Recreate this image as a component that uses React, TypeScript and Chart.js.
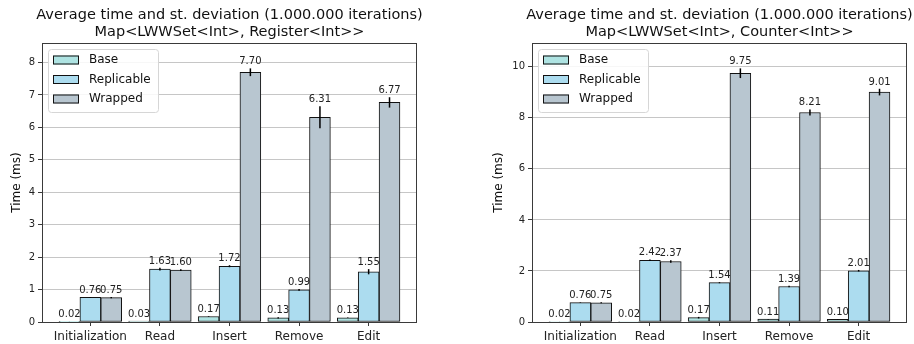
import React, { useEffect, useRef } from "react";
import { Chart, registerables } from "chart.js";

Chart.register(...registerables);

// Benchmark categories
const categories = ["Initialization", "Read", "Insert", "Remove", "Edit"];
const seriesNames = ["Base", "Replicable", "Wrapped"];
const seriesColors = ["#aee3e2", "#acdcef", "#b8c6d0"];

// Map<LWWSet<Int>, Register<Int>> — mean time (ms) and standard deviation
const registerBase = [0.02, 0.03, 0.17, 0.13, 0.13];
const registerBaseErr = [0.002, 0.003, 0.01, 0.02, 0.01];
const registerReplicable = [0.76, 1.63, 1.72, 0.99, 1.55];
const registerReplicableErr = [0.01, 0.04, 0.03, 0.03, 0.08];
const registerWrapped = [0.75, 1.6, 7.7, 6.31, 6.77];
const registerWrappedErr = [0.02, 0.03, 0.12, 0.34, 0.16];

// Map<LWWSet<Int>, Counter<Int>> — mean time (ms) and standard deviation
const counterBase = [0.02, 0.02, 0.17, 0.11, 0.1];
const counterBaseErr = [0.002, 0.002, 0.03, 0.01, 0.01];
const counterReplicable = [0.76, 2.42, 1.54, 1.39, 2.01];
const counterReplicableErr = [0.01, 0.03, 0.02, 0.03, 0.03];
const counterWrapped = [0.75, 2.37, 9.75, 8.21, 9.01];
const counterWrappedErr = [0.02, 0.05, 0.19, 0.12, 0.13];

const TITLE_LINE = "Average time and st. deviation (1.000.000 iterations)";
const FONT = "'DejaVu Sans', sans-serif";
const BAR_WIDTH = 0.3;
const INK = "#222";

type PanelSpec = {
  subtitle: string;
  values: number[][];
  errors: number[][];
  yStep: number;
  padLeft: number;
  yAxisWidth: number;
  padRight: number;
};

const panels: PanelSpec[] = [
  {
    subtitle: "Map<LWWSet<Int>, Register<Int>>",
    values: [registerBase, registerReplicable, registerWrapped],
    errors: [registerBaseErr, registerReplicableErr, registerWrappedErr],
    yStep: 1,
    padLeft: 10,
    yAxisWidth: 32,
    padRight: 40,
  },
  {
    subtitle: "Map<LWWSet<Int>, Counter<Int>>",
    values: [counterBase, counterReplicable, counterWrapped],
    errors: [counterBaseErr, counterReplicableErr, counterWrappedErr],
    yStep: 2,
    padLeft: 35,
    yAxisWidth: 40,
    padRight: 7,
  },
];

// Error bars, value labels, frame, titles and in-axes legend
const decorations = {
  id: "decorations",
  afterDatasetsDraw(chart: any, _args: any, opts: any) {
    const { ctx, chartArea } = chart;
    const y = chart.scales.y;
    const errors: number[][] = opts.errors;
    ctx.save();

    // error bars
    ctx.strokeStyle = "#000";
    ctx.lineWidth = 1.5;
    chart.data.datasets.forEach((ds: any, di: number) => {
      const meta = chart.getDatasetMeta(di);
      meta.data.forEach((bar: any, i: number) => {
        const v = ds.data[i].y;
        const e = errors[di][i];
        ctx.beginPath();
        ctx.moveTo(bar.x, y.getPixelForValue(v - e));
        ctx.lineTo(bar.x, y.getPixelForValue(v + e));
        ctx.stroke();
      });
    });

    // value labels above the error bars
    ctx.fillStyle = INK;
    ctx.font = `10px ${FONT}`;
    ctx.textAlign = "center";
    ctx.textBaseline = "alphabetic";
    chart.data.datasets.forEach((ds: any, di: number) => {
      const meta = chart.getDatasetMeta(di);
      meta.data.forEach((bar: any, i: number) => {
        const v = ds.data[i].y;
        const e = errors[di][i];
        ctx.fillText(v.toFixed(2), bar.x, y.getPixelForValue(v + e) - 4);
      });
    });

    // axes frame
    ctx.strokeStyle = "#3a3a3a";
    ctx.lineWidth = 1;
    ctx.strokeRect(
      Math.round(chartArea.left) + 0.5,
      Math.round(chartArea.top) + 0.5,
      Math.round(chartArea.right - chartArea.left) - 1,
      Math.round(chartArea.bottom - chartArea.top)
    );

    // titles, centred over the plot area
    const cx = (chartArea.left + chartArea.right) / 2;
    ctx.fillStyle = "#111";
    ctx.font = `14.5px ${FONT}`;
    ctx.textAlign = "center";
    ctx.textBaseline = "middle";
    ctx.fillText(TITLE_LINE, cx, 15.5);
    ctx.fillText(opts.subtitle, cx, 32.5);

    // legend box
    const lx = chartArea.left + 6;
    const ly = chartArea.top + 6;
    const lw = 110;
    const lh = 63;
    ctx.fillStyle = "rgba(255,255,255,0.85)";
    ctx.strokeStyle = "#d6d6d6";
    ctx.lineWidth = 1;
    ctx.beginPath();
    ctx.roundRect(lx + 0.5, ly + 0.5, lw, lh, 3);
    ctx.fill();
    ctx.stroke();
    ctx.font = `12px ${FONT}`;
    ctx.textAlign = "left";
    ctx.textBaseline = "middle";
    seriesNames.forEach((name, k) => {
      const rowY = ly + 11 + k * 19.5;
      ctx.fillStyle = seriesColors[k];
      ctx.fillRect(lx + 5, rowY - 4.5, 26, 9);
      ctx.strokeStyle = "#111";
      ctx.strokeRect(lx + 5.5, rowY - 4, 25, 8);
      ctx.fillStyle = "#111";
      ctx.fillText(name, lx + 41, rowY);
    });

    ctx.restore();
  },
};

function Panel({ spec }: { spec: PanelSpec }) {
  const ref = useRef<HTMLCanvasElement | null>(null);

  useEffect(() => {
    if (!ref.current) return;
    const top = Math.max(
      ...spec.values.flatMap((arr, k) => arr.map((v, i) => v + spec.errors[k][i]))
    );
    // bars span from the first group's left edge to the last group's right edge
    const first = -1.5 * BAR_WIDTH;
    const last = categories.length - 1 + 1.5 * BAR_WIDTH;
    const margin = 0.05 * (last - first);

    const datasets = seriesNames.map((name, k) => ({
      label: name,
      data: spec.values[k].map((v, i) => ({ x: i + (k - 1) * BAR_WIDTH, y: v })),
      backgroundColor: seriesColors[k],
      borderColor: "#111",
      borderWidth: 1,
      borderSkipped: false as const,
      grouped: false,
      barPercentage: 1,
      categoryPercentage: 1,
    }));

    const chart = new Chart(ref.current, {
      type: "bar",
      data: { datasets },
      plugins: [decorations],
      options: {
        animation: false,
        responsive: false,
        maintainAspectRatio: false,
        layout: { padding: { left: spec.padLeft, right: spec.padRight, top: 43, bottom: 0 } },
        plugins: {
          legend: { display: false },
          tooltip: { enabled: false },
          title: { display: false },
          decorations: { errors: spec.errors, subtitle: spec.subtitle },
        } as any,
        scales: {
          x: {
            type: "linear",
            min: first - margin,
            max: last + margin,
            offset: false,
            border: { display: false },
            grid: {
              display: true,
              offset: false,
              drawOnChartArea: false,
              drawTicks: true,
              tickLength: 4,
              tickColor: "#3a3a3a",
            },
            ticks: {
              stepSize: 1,
              includeBounds: false,
              autoSkip: false,
              maxRotation: 0,
              padding: 4,
              color: INK,
              font: { family: FONT, size: 12 },
              callback: (val: any) => categories[Math.round(Number(val))] ?? "",
            },
            afterFit: (scale: any) => {
              scale.height = 22;
            },
          },
          y: {
            type: "linear",
            min: 0,
            max: top * 1.1,
            border: { display: false },
            grid: {
              color: "#c6c6c6",
              lineWidth: 1,
              drawTicks: true,
              tickLength: 4,
              tickColor: "#3a3a3a",
            },
            ticks: {
              stepSize: spec.yStep,
              includeBounds: false,
              padding: 3,
              color: INK,
              font: { family: FONT, size: 10 },
            },
            title: {
              display: true,
              text: "Time (ms)",
              color: "#111",
              padding: 0,
              font: { family: FONT, size: 12 },
            },
            afterFit: (scale: any) => {
              scale.width = spec.yAxisWidth;
            },
          },
        },
      } as any,
    });
    return () => chart.destroy();
  }, [spec]);

  return <canvas ref={ref} width={457} height={344} style={{ display: "block", width: 457, height: 344 }} />;
}

export default function App() {
  return (
    <div
      style={{
        position: "fixed",
        left: 0,
        top: 0,
        width: 914,
        height: 344,
        display: "flex",
        background: "#fff",
      }}
    >
      {panels.map((p, i) => (
        <Panel key={i} spec={p} />
      ))}
    </div>
  );
}
